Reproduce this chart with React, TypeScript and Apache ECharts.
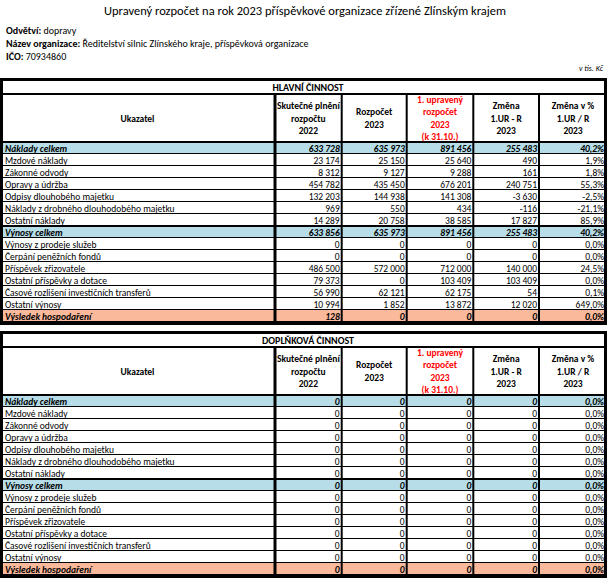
import React, { useEffect, useRef } from "react";
import * as echarts from "echarts";

// ---------- texts ----------
const TITLE = "Upravený rozpočet na rok 2023 příspěvkové organizace zřízené Zlínským krajem";
const INFO_LABELS = ["Odvětví:", "Název organizace:", "IČO:"];
const INFO_VALUES = ["dopravy", "Ředitelství silnic Zlínského kraje, příspěvková organizace", "70934860"];
const UNIT_NOTE = "v tis. Kč";
const SECTIONS = ["HLAVNÍ ČINNOST", "DOPLŇKOVÁ ČINNOST"];
const HEAD_FIRST = "Ukazatel";
const HEAD_COLS = [
  ["Skutečné plnění", "rozpočtu", "2022"],
  ["Rozpočet", "2023"],
  ["1. upravený", "rozpočet", "2023", "(k 31.10.)"],
  ["Změna", "1.UR - R", "2023"],
  ["Změna v %", "1.UR / R", "2023"],
];
const HEAD_RED = [false, false, true, false, false];

// ---------- rows ----------
const ROW_LABELS = [
  "Náklady celkem",
  "Mzdové náklady",
  "Zákonné odvody",
  "Opravy a údržba",
  "Odpisy dlouhobého majetku",
  "Náklady z drobného dlouhodobého majetku",
  "Ostatní náklady",
  "Výnosy celkem",
  "Výnosy z prodeje služeb",
  "Čerpání peněžních fondů",
  "Příspěvek zřizovatele",
  "Ostatní příspěvky a dotace",
  "Časové rozlišení investičních transferů",
  "Ostatní výnosy",
  "Výsledek hospodaření",
];
const ROW_KINDS = ["total", "item", "item", "item", "item", "item", "item", "total", "item", "item", "item", "item", "item", "item", "result"];

// ---------- HLAVNÍ ČINNOST ----------
const MAIN_ACTUAL_2022 = [633728, 23174, 8312, 454782, 132203, 969, 14289, 633856, 0, 0, 486500, 79373, 56990, 10994, 128];
const MAIN_BUDGET_2023 = [635973, 25150, 9127, 435450, 144938, 550, 20758, 635973, 0, 0, 572000, 0, 62121, 1852, 0];
const MAIN_REVISED_2023 = [891456, 25640, 9288, 676201, 141308, 434, 38585, 891456, 0, 0, 712000, 103409, 62175, 13872, 0];
const MAIN_CHANGE = [255483, 490, 161, 240751, -3630, -116, 17827, 255483, 0, 0, 140000, 103409, 54, 12020, 0];
const MAIN_CHANGE_PCT = [40.2, 1.9, 1.8, 55.3, -2.5, -21.1, 85.9, 40.2, 0.0, 0.0, 24.5, 0.0, 0.1, 649.0, 0.0];

// ---------- DOPLŇKOVÁ ČINNOST ----------
const SIDE_ACTUAL_2022 = [0, 0, 0, 0, 0, 0, 0, 0, 0, 0, 0, 0, 0, 0, 0];
const SIDE_BUDGET_2023 = [0, 0, 0, 0, 0, 0, 0, 0, 0, 0, 0, 0, 0, 0, 0];
const SIDE_REVISED_2023 = [0, 0, 0, 0, 0, 0, 0, 0, 0, 0, 0, 0, 0, 0, 0];
const SIDE_CHANGE = [0, 0, 0, 0, 0, 0, 0, 0, 0, 0, 0, 0, 0, 0, 0];
const SIDE_CHANGE_PCT = [0.0, 0.0, 0.0, 0.0, 0.0, 0.0, 0.0, 0.0, 0.0, 0.0, 0.0, 0.0, 0.0, 0.0, 0.0];

const TABLE_VALUES = [
  [MAIN_ACTUAL_2022, MAIN_BUDGET_2023, MAIN_REVISED_2023, MAIN_CHANGE, MAIN_CHANGE_PCT],
  [SIDE_ACTUAL_2022, SIDE_BUDGET_2023, SIDE_REVISED_2023, SIDE_CHANGE, SIDE_CHANGE_PCT],
];

// ---------- layout / style ----------
const FONT = "Carlito, Calibri, Lato, 'Noto Sans', sans-serif";
const BLUE = "#B7DEE8";
const SALMON = "#FBB99C";
const RED = "#FF0000";
const TABLE_TOPS = [78, 331];
const TABLE_W = 607;
const COL_EDGES = [0, 275, 341.7, 406.7, 473.3, 539, 607];
const BORDER = 3;
const TITLE_ROW_H = 13;
const HEADER_H = 48;
const ROW_H = 12;
const BODY_FS = 9.5;

function fmtNum(v: number): string {
  const s = Math.abs(v).toString().replace(/\B(?=(\d{3})+(?!\d))/g, " ");
  return (v < 0 ? "-" : "") + s;
}
function fmtPct(v: number): string {
  return v.toFixed(1).replace(".", ",") + "%";
}

function bodyTop(t: number) {
  return TABLE_TOPS[t] + BORDER + TITLE_ROW_H + HEADER_H;
}

export default function App() {
  const ref = useRef<HTMLDivElement>(null);

  useEffect(() => {
    if (!ref.current) return;
    const chart = echarts.init(ref.current, undefined, { renderer: "svg" });
    const nRows = ROW_LABELS.length;

    const graphics: any[] = [];
    // Title + info
    graphics.push({
      type: "text", x: 305, y: 10, z: 100, silent: true,
      style: { text: TITLE, fontFamily: FONT, fontSize: 12.5, fill: "#000", align: "center", verticalAlign: "middle" },
    });
    INFO_LABELS.forEach((lab, k) => {
      graphics.push({
        type: "text", x: 6, y: 30 + k * 13, z: 100, silent: true,
        style: {
          text: `{b|${lab}} ${INFO_VALUES[k]}`,
          fontFamily: FONT, fontSize: 10, fill: "#000", align: "left", verticalAlign: "middle",
          rich: { b: { fontFamily: FONT, fontSize: 10, fontWeight: "bold", fill: "#000" } },
        },
      });
    });
    graphics.push({
      type: "text", x: 603, y: 68, z: 100, silent: true,
      style: { text: UNIT_NOTE, fontFamily: FONT, fontSize: 8, fontStyle: "italic", fill: "#000", align: "right", verticalAlign: "middle" },
    });

    TABLE_TOPS.forEach((T, t) => {
      const bTop = bodyTop(t);
      const bBottom = bTop + nRows * ROW_H;
      const headTop = T + BORDER + TITLE_ROW_H;
      const blk = (x: number, y: number, w: number, h: number) =>
        graphics.push({ type: "rect", z: 100, silent: true, shape: { x, y, width: w, height: h }, style: { fill: "#000" } });
      // outer borders
      blk(0, T, TABLE_W, BORDER);
      blk(0, T, BORDER, bBottom + BORDER - T);
      blk(TABLE_W - BORDER, T, BORDER, bBottom + BORDER - T);
      blk(0, bBottom, TABLE_W, BORDER);
      // title row bottom line & header bottom line
      blk(0, headTop - 1, TABLE_W, 2);
      blk(0, bTop - 1, TABLE_W, 2);
      // vertical column lines
      for (let c = 1; c < COL_EDGES.length - 1; c++) {
        const w = c === 1 ? 3 : 2;
        blk(COL_EDGES[c] - w / 2, headTop, w, bBottom - headTop);
      }
      // section title
      graphics.push({
        type: "text", x: 308, y: T + BORDER + TITLE_ROW_H / 2, z: 100, silent: true,
        style: { text: SECTIONS[t], fontFamily: FONT, fontSize: 10, fontWeight: "bold", fill: "#000", align: "center", verticalAlign: "middle" },
      });
      // header texts
      const hMid = headTop + HEADER_H / 2 + 0.5;
      graphics.push({
        type: "text", x: COL_EDGES[1] / 2, y: hMid, z: 100, silent: true,
        style: { text: HEAD_FIRST, fontFamily: FONT, fontSize: BODY_FS, fontWeight: "bold", fill: "#000", align: "center", verticalAlign: "middle" },
      });
      HEAD_COLS.forEach((lines, c) => {
        graphics.push({
          type: "text", x: (COL_EDGES[c + 1] + COL_EDGES[c + 2]) / 2, y: hMid, z: 100, silent: true,
          style: {
            text: lines.join("\n"), fontFamily: FONT, fontSize: BODY_FS, fontWeight: "bold", lineHeight: 12.3,
            fill: HEAD_RED[c] ? RED : "#000", align: "center", verticalAlign: "middle",
          },
        });
      });
    });

    const option: any = {
      animation: false,
      grid: TABLE_TOPS.map((_, t) => ({ left: 0, width: TABLE_W, top: bodyTop(t), height: nRows * ROW_H, containLabel: false })),
      xAxis: TABLE_TOPS.map((_, t) => ({ gridIndex: t, type: "value", min: 0, max: TABLE_W, show: false })),
      yAxis: TABLE_TOPS.map((_, t) => ({ gridIndex: t, type: "category", data: ROW_LABELS, inverse: true, show: false })),
      series: TABLE_TOPS.map((_, t) => ({
        type: "custom",
        xAxisIndex: t,
        yAxisIndex: t,
        z: 1,
        silent: true,
        encode: { x: 0, y: 1 },
        data: ROW_LABELS.map((_l, i) => [0, i]),
        renderItem: (params: any, api: any) => {
          const i = params.dataIndex;
          const yC = api.coord([0, i])[1];
          const h = api.size([0, 1])[1];
          const top = Math.round(yC - h / 2);
          const kind = ROW_KINDS[i];
          const strong = kind !== "item";
          const fill = kind === "total" ? BLUE : kind === "result" ? SALMON : "#FFFFFF";
          const X = (e: number) => api.coord([e, i])[0];
          const txtStyle = (text: string, align: string) => ({
            text, fontFamily: FONT, fontSize: BODY_FS,
            fontWeight: strong ? "bold" : "normal", fontStyle: strong ? "italic" : "normal",
            fill: "#000", align, verticalAlign: "middle",
          });
          const children: any[] = [
            { type: "rect", shape: { x: X(0), y: top, width: X(TABLE_W) - X(0), height: h }, style: { fill } },
            { type: "text", x: X(0) + 5, y: top + h / 2 + 0.5, style: txtStyle(ROW_LABELS[i], "left") },
          ];
          TABLE_VALUES[t].forEach((arr, c) => {
            const txt = c === 4 ? fmtPct(arr[i]) : fmtNum(arr[i]);
            const right = c === 4 ? X(COL_EDGES[6]) - 3 : X(COL_EDGES[c + 2]) - 2;
            children.push({ type: "text", x: right, y: top + h / 2 + 0.5, style: txtStyle(txt, "right") });
          });
          // row bottom line
          children.push({ type: "rect", shape: { x: X(0), y: top + h - 1, width: X(TABLE_W) - X(0), height: 1 }, style: { fill: "#000" } });
          // thicker line above inner total rows
          if (kind === "total" && i > 0) {
            children.push({ type: "rect", shape: { x: X(0), y: top - 1, width: X(TABLE_W) - X(0), height: 2 }, style: { fill: "#000" } });
          }
          return { type: "group", children };
        },
      })),
      graphic: { elements: graphics },
    };

    chart.setOption(option);
    return () => chart.dispose();
  }, []);

  return <div ref={ref} style={{ width: 608, height: 578, position: "absolute", left: 0, top: 0, background: "#fff" }} />;
}
